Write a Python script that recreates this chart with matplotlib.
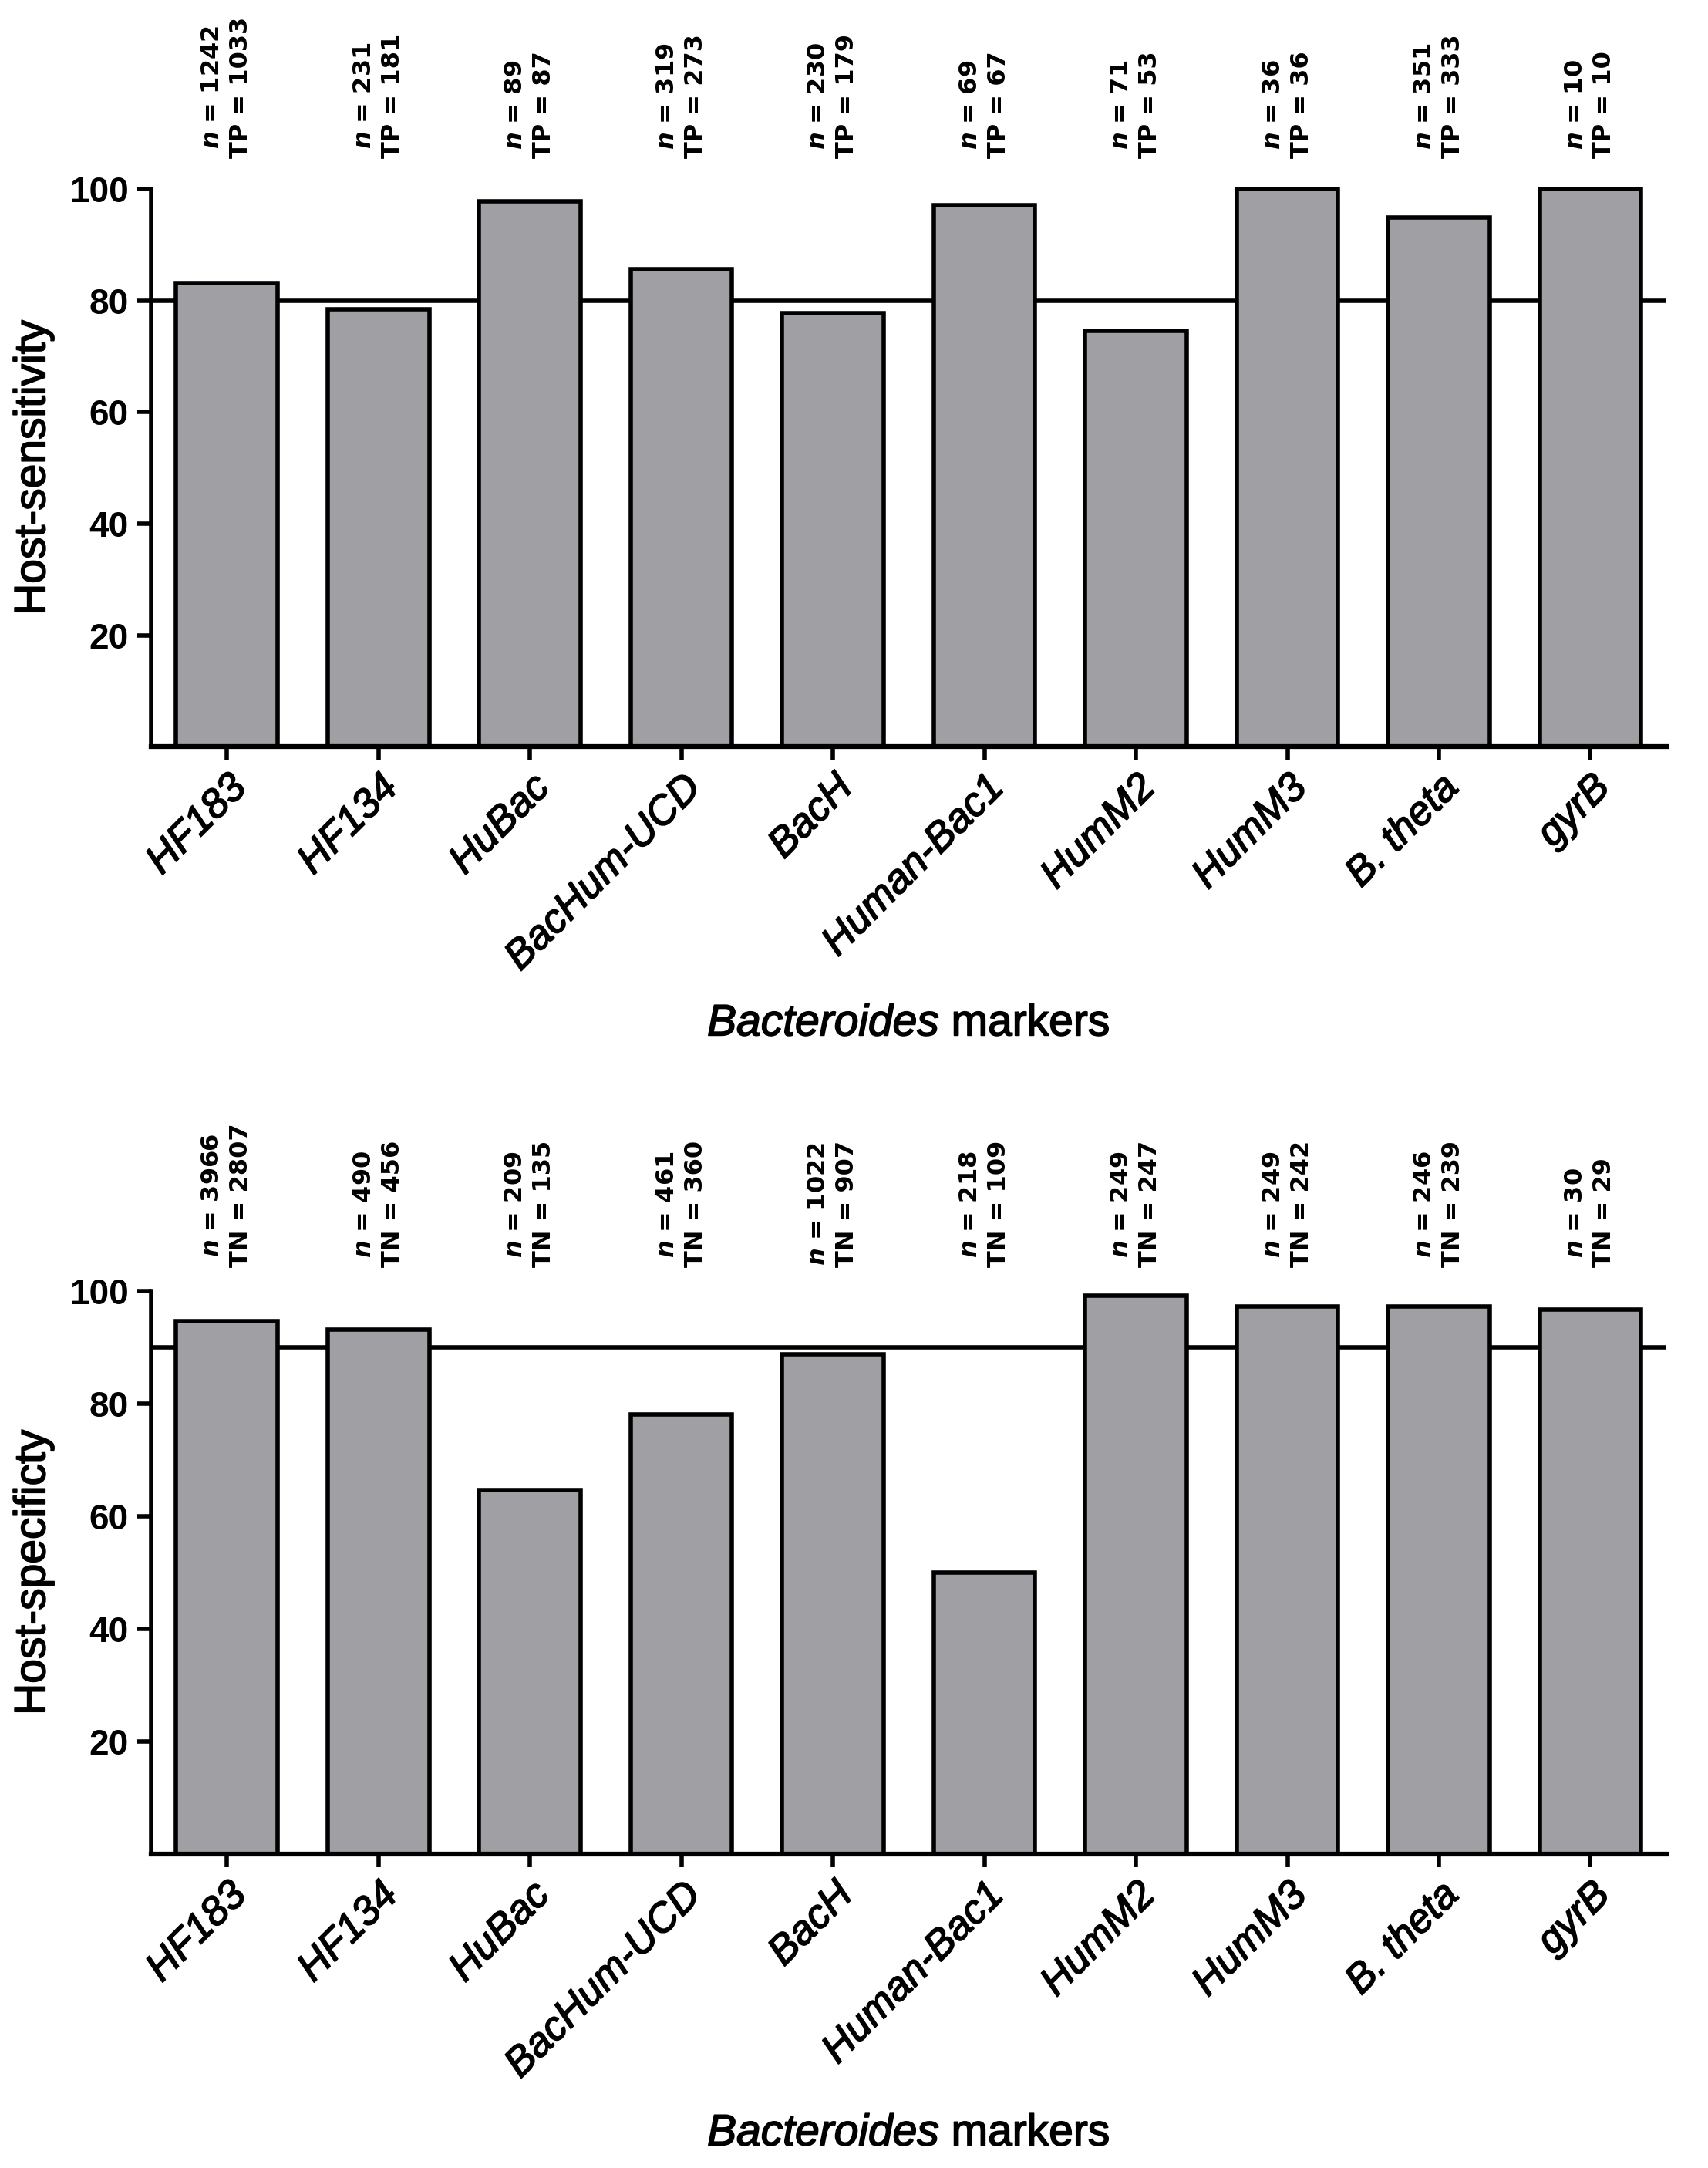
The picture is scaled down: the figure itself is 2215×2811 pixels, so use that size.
import matplotlib
matplotlib.use("Agg")
import matplotlib.pyplot as plt
import matplotlib.patheffects as pe
import numpy as np

# data
markers = ["HF183", "HF134", "HuBac", "BacHum-UCD", "BacH",
           "Human-Bac1", "HumM2", "HumM3", "B. theta", "gyrB"]

sens_values = [83.2, 78.4, 97.8, 85.6, 77.8, 97.1, 74.6, 100.0, 94.9, 100.0]
sens_n = [1242, 231, 89, 319, 230, 69, 71, 36, 351, 10]
sens_tp = [1033, 181, 87, 273, 179, 67, 53, 36, 333, 10]
sens_threshold = 80

spec_values = [94.6, 93.1, 64.6, 78.1, 88.7, 50.0, 99.2, 97.2, 97.2, 96.7]
spec_n = [3966, 490, 209, 461, 1022, 218, 249, 249, 246, 30]
spec_tn = [2807, 456, 135, 360, 907, 109, 247, 242, 239, 29]
spec_threshold = 90

yticks = [20, 40, 60, 80, 100]

plt.rcParams["font.family"] = ["Liberation Sans", "DejaVu Sans"]
plt.rcParams["mathtext.fontset"] = "custom"
plt.rcParams["mathtext.rm"] = "Liberation Sans"
plt.rcParams["mathtext.it"] = "Liberation Sans:italic"
plt.rcParams["mathtext.bf"] = "DejaVu Sans:bold:italic"

bar_color = "#a0a0a4"
lw = 4.0
# the original text is a bit heavier than plain Arial, thicken it slightly
heavy = [pe.withStroke(linewidth=1.2, foreground="black")]


def draw_panel(ax, values, n_list, t_list, t_name, threshold, ylabel, text_offset):
    x = np.arange(len(markers))
    ax.axhline(threshold, color="black", lw=lw, zorder=1)
    ax.bar(x, values, width=0.67, color=bar_color, edgecolor="black",
           linewidth=lw, zorder=2, clip_on=False)

    ax.set_xlim(-0.5, len(markers) - 0.5)
    ax.set_ylim(0, 100)
    ax.set_yticks(yticks)
    ax.set_xticks(x)
    ax.set_xticklabels(markers, rotation=45, ha="right", va="top",
                       rotation_mode="anchor", fontsize=38, style="italic")
    for lab in ax.get_xticklabels():
        lab.set_path_effects(heavy)
    for lab in ax.get_yticklabels():
        lab.set_fontsize(33)
        lab.set_fontweight("bold")

    ax.spines["top"].set_visible(False)
    ax.spines["right"].set_visible(False)
    ax.spines["left"].set_linewidth(lw)
    ax.spines["bottom"].set_linewidth(lw + 0.5)
    ax.tick_params(axis="y", length=13, width=lw, pad=8)
    ax.tick_params(axis="x", length=12, width=lw, pad=8)

    ax.set_ylabel(ylabel, fontsize=41, path_effects=heavy)
    ax.yaxis.set_label_coords(-0.064, 0.5)
    ax.set_xlabel(r"$\it{Bacteroides}$ markers", fontsize=41, path_effects=heavy)
    ax.xaxis.set_label_coords(0.5, -0.46)

    for i in range(len(markers)):
        txt = r"$\mathbf{n}$ = %d" % n_list[i] + "\n" + "%s = %d" % (t_name, t_list[i])
        ax.annotate(txt, xy=(i, 1), xycoords=("data", "axes fraction"),
                    xytext=(0, text_offset), textcoords="offset points",
                    rotation=90, ha="center", va="bottom", multialignment="center",
                    fontsize=23, fontweight="bold", family="DejaVu Sans",
                    linespacing=1.25, annotation_clip=False)


fig = plt.figure(figsize=(22.15, 28.11), dpi=100)
ax1 = fig.add_axes([0.0885, 0.6556, 0.887, 0.2572])
ax2 = fig.add_axes([0.0885, 0.1448, 0.887, 0.2597])

draw_panel(ax1, sens_values, sens_n, sens_tp, "TP", sens_threshold,
           "Host-sensitivity", 29)
draw_panel(ax2, spec_values, spec_n, spec_tn, "TN", spec_threshold,
           "Host-specificty", 22)

fig.savefig("out.png", dpi=100)
